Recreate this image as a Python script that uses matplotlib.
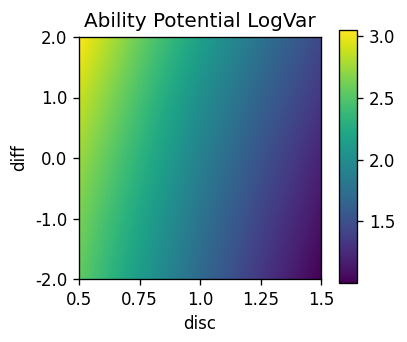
import numpy as np
import matplotlib
matplotlib.use("Agg")
import matplotlib.pyplot as plt

# grid nodes
disc = [0.5, 0.75, 1.0, 1.25, 1.5]
diff = [-2.0, -1.0, 0.0, 1.0, 2.0]
# log variance at each (diff, disc) node, rows follow diff
logvar = [
    [2.55, 2.13, 1.70, 1.33, 1.00],   # diff = -2
    [2.63, 2.22, 1.79, 1.42, 1.10],   # diff = -1
    [2.74, 2.33, 1.90, 1.53, 1.20],   # diff = 0
    [2.88, 2.45, 2.02, 1.65, 1.33],   # diff = 1
    [3.05, 2.58, 2.17, 1.78, 1.45],   # diff = 2
]

xtick_vals = [0.5, 0.75, 1.0, 1.25, 1.5]
xtick_labels = ["0.5", "0.75", "1.0", "1.25", "1.5"]
ytick_vals = [-2, -1, 0, 1, 2]
ytick_labels = ["-2.0", "-1.0", "0.0", "1.0", "2.0"]
cbar_ticks = [1.5, 2.0, 2.5, 3.0]

z = np.asarray(logvar, dtype=float)
dx = disc[1] - disc[0]
dy = diff[1] - diff[0]

fig = plt.figure(figsize=(407 / 120, 342 / 120), dpi=120)
ax = fig.add_axes([79 / 407, 63 / 342, 242 / 407, 242 / 342])
cax = fig.add_axes([339 / 407, 59 / 342, 18 / 407, 253 / 342])

# pixel centres sit on the grid nodes so bilinear resampling blends between them
im = ax.imshow(
    z,
    origin="lower",
    cmap="viridis",
    aspect="auto",
    interpolation="bilinear",
    interpolation_stage="data",
    extent=[disc[0] - dx / 2, disc[-1] + dx / 2, diff[0] - dy / 2, diff[-1] + dy / 2],
    vmin=z.min(),
    vmax=z.max(),
)
ax.set_xlim(disc[0], disc[-1])
ax.set_ylim(diff[0], diff[-1])

ax.set_xticks(xtick_vals)
ax.set_xticklabels(xtick_labels)
ax.set_yticks(ytick_vals)
ax.set_yticklabels(ytick_labels)
ax.set_xlabel("disc")
ax.set_ylabel("diff")
ax.set_title("Ability Potential LogVar")

cb = fig.colorbar(im, cax=cax)
cb.set_ticks(cbar_ticks)
cb.set_ticklabels([f"{t:.1f}" for t in cbar_ticks])

fig.savefig("out.png", dpi=120)
